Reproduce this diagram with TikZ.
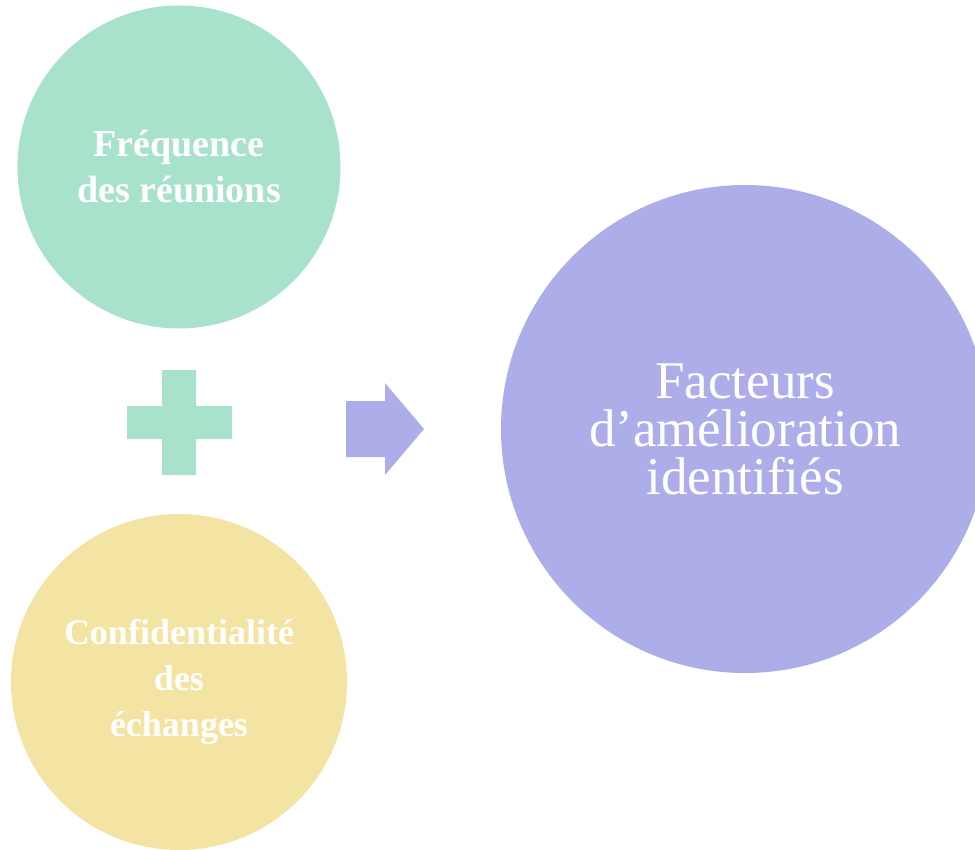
\documentclass[tikz,border=0pt]{standalone}
\usepackage{fontspec}
\setmainfont{Liberation Serif}
\usepackage{tikz}
\definecolor{mint}{HTML}{A9E2CB}
\definecolor{straw}{HTML}{F4E4A4}
\definecolor{lilac}{HTML}{ADADEA}
\tikzset{
  bubble/.style={circle,inner sep=0pt,text=white,align=center},
  smalltext/.style={font=\bfseries\fontsize{#1}{46bp}\selectfont},
}

\begin{document}
\begin{tikzpicture}[x=1bp,y=-1bp]
  \useasboundingbox (0,0) rectangle (975,850);
  \node [bubble,fill=mint,minimum size=323bp,smalltext=38bp] (freq) at (179,167) {Fréquence\\des réunions};
  \node [bubble,fill=straw,minimum size=336bp,smalltext=36bp] (conf) at (179,682) {Confidentialité\\des\\échanges};
  \node [bubble,fill=lilac,minimum size=488bp,font=\fontsize{53bp}{48bp}\selectfont] (fact) at (745,429) {Facteurs\\d’amélioration\\identifiés};
  % plus
  \fill [mint] (127,406) rectangle (232,439) (162,370) rectangle (196,475);
  % arrow
  \fill [lilac] (346,401) -- (385,401) -- (385,383) -- (424,429) -- (385,475) -- (385,457) -- (346,457) -- cycle;
\end{tikzpicture}
\end{document}
